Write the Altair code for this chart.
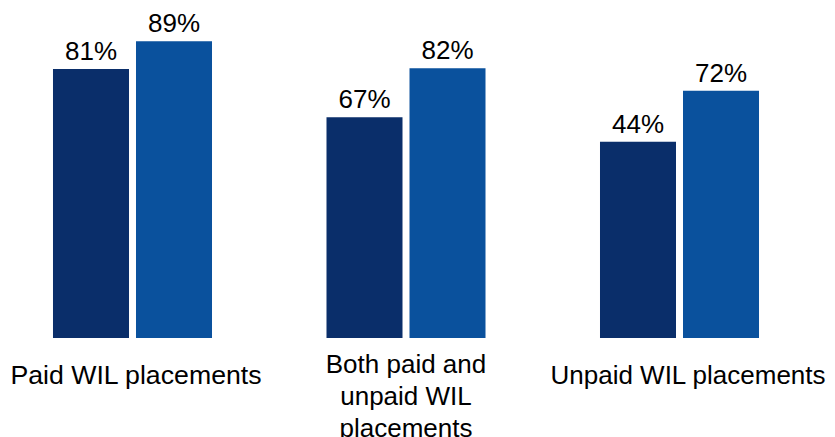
import altair as alt
import pandas as pd

# ---- data ----
categories = ["Paid WIL placements", "Both paid and unpaid WIL placements", "Unpaid WIL placements"]
middle_lines = ["Both paid and", "unpaid WIL", "placements"]
series = ["Series 1", "Series 2"]
series_colors = ["#0a2e6a", "#0a519d"]
bar_values_1 = [80.7, 66.2, 58.9]
bar_values_2 = [89.0, 80.9, 74.2]
label_text_1 = ["81%", "67%", "44%"]
label_text_2 = ["89%", "82%", "72%"]

rows = []
for i, c in enumerate(categories):
    rows.append({"category": c, "series": series[0], "value": bar_values_1[i], "label": label_text_1[i]})
    rows.append({"category": c, "series": series[1], "value": bar_values_2[i], "label": label_text_2[i]})
df = pd.DataFrame(rows)

FONT = "Liberation Sans"

lines_js = "[" + ", ".join("'" + s + "'" for s in middle_lines) + "]"
label_expr = f"datum.value == '{categories[1]}' ? {lines_js} : datum.label"

x_axis = alt.Axis(
    title=None,
    domain=False,
    ticks=False,
    grid=False,
    labelAngle=0,
    labelFont=FONT,
    labelFontSize={
        "condition": {"test": f"datum.value === '{categories[0]}'", "value": 26.7},
        "value": 26,
    },
    labelColor="#000000",
    labelLimit=0,
    labelLineHeight=32,
    labelExpr=label_expr,
    labelPadding={
        "condition": {"test": f"datum.value === '{categories[1]}'", "value": 13},
        "value": 24,
    },
    labelOffset={
        "condition": [
            {"test": f"datum.value === '{categories[0]}'", "value": 3.5},
            {"test": f"datum.value === '{categories[2]}'", "value": 8.5},
        ],
        "value": 0,
    },
)

base = alt.Chart(df).encode(
    x=alt.X("category:N", sort=categories,
            scale=alt.Scale(paddingInner=0.4186, paddingOuter=0.1645),
            axis=x_axis),
    xOffset=alt.XOffset("series:N", sort=series,
                        scale=alt.Scale(paddingInner=0.0843, paddingOuter=0)),
    y=alt.Y("value:Q", scale=alt.Scale(domain=[0, 99]), axis=None),
)

bars = base.mark_bar().encode(
    color=alt.Color("series:N", scale=alt.Scale(domain=series, range=series_colors), legend=None)
)

text = base.mark_text(baseline="alphabetic", dy=-9, fontSize=26, font=FONT, color="#000000").encode(
    text="label:N"
)

chart = (bars + text).properties(width=796, height=330, padding=0).configure_view(stroke=None)

chart.save("out.html", embed_options={"renderer": "svg", "actions": False})
